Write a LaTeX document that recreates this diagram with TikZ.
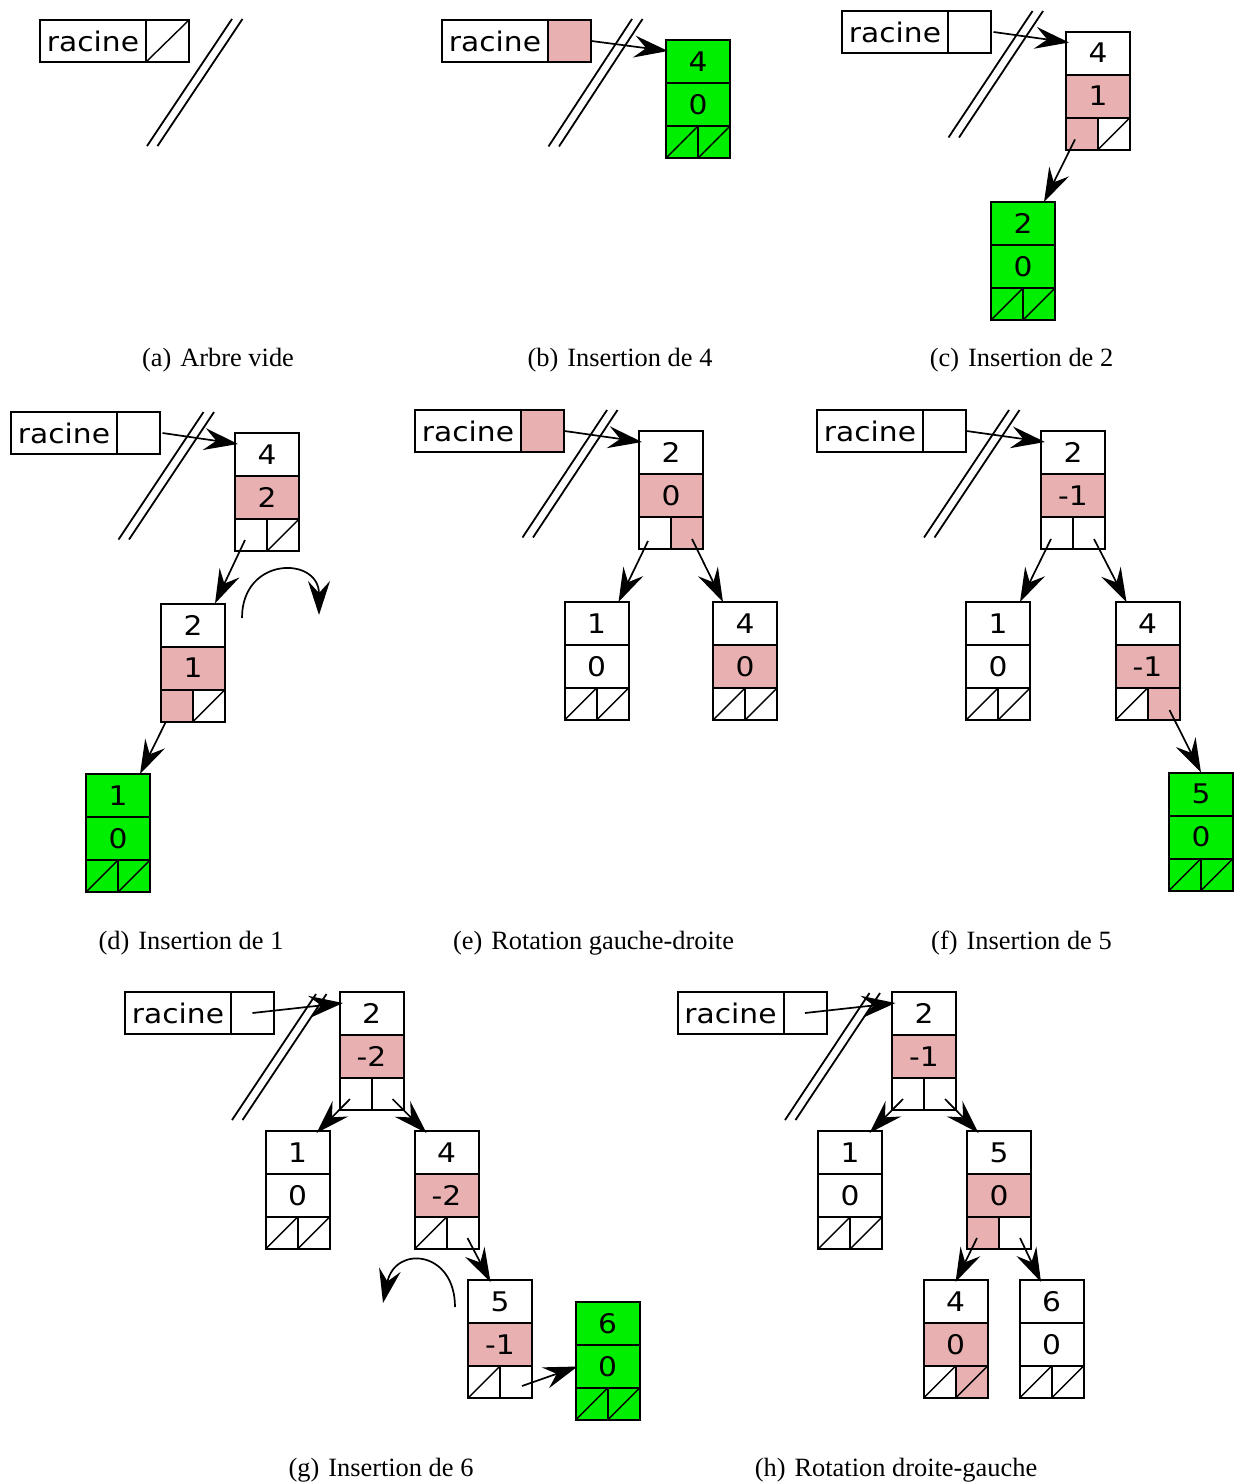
\documentclass[tikz,border=0pt]{standalone}
\usepackage{fontspec}
\newfontfamily\vera[FakeStretch=1.1]{DejaVu Sans}
\newfontfamily\capfont{Liberation Serif}
\usetikzlibrary{arrows.meta}
\definecolor{pinkc}{RGB}{232,176,176}
\definecolor{greenc}{RGB}{0,238,0}
\tikzset{
 cell/.style={draw, line width=1pt, inner sep=0pt, outer sep=0pt, anchor=north west, font={\vera\fontsize{13.5}{14}\selectfont}},
 keycell/.style={cell, minimum width=32pt, minimum height=21.5pt},
 ptrcell/.style={cell, minimum width=16pt, minimum height=16pt},
 nullline/.style={line width=0.7pt},
 slashline/.style={line width=0.9pt},
 link/.style={line width=0.85pt, -{Stealth[length=17pt,width=11pt,inset=6pt]}},
 captext/.style={font={\capfont\fontsize{13.2}{15}\selectfont}, anchor=base, inner sep=0pt},
}
\newcommand\tnode[9]{%
 \node[keycell, fill=#6] (#1) at (#2,#3) {#4};
 \node[keycell, fill=#7] (#1b) at (#1.south west) {#5};
 \node[ptrcell, fill=#8] (#1l) at (#1b.south west) {};
 \node[ptrcell, fill=#9] (#1r) at (#1l.north east) {};
}
\newcommand\nullp[1]{\draw[nullline] (#1.south west) -- (#1.north east);}
\newcommand\racine[4]{%
 \node[cell, minimum width=53pt, minimum height=21pt] (#1) at (#2,#3) {racine};
 \node[cell, minimum width=21.5pt, minimum height=21pt, fill=#4] (#1p) at (#1.north east) {};
}
\newcommand\slashes[4]{%
 \draw[slashline] (#1,#2) -- (#3,#4);
 \draw[slashline] (#1+10.5,#2) -- (#3+10.5,#4);
}
\begin{document}
\begin{tikzpicture}[x=0.5pt, y=-0.5pt]
\useasboundingbox (0,0) rectangle (1233,1483);

% (a)
\racine{ra}{40}{20}{white}
\nullp{rap}
\slashes{147}{146}{232}{19}
\node[captext] (capa) at (218,366) {(a)\hspace{4.5pt}Arbre vide};

% (b)
\racine{rb}{442}{20}{pinkc}
\slashes{548.5}{146.5}{632}{19}
\tnode{bq}{666}{40}{4}{0}{greenc}{greenc}{greenc}{greenc}
\nullp{bql}\nullp{bqr}
\draw[link] ([xshift=11]rbp.center) -- ([shift={(2,11)}]bq.north west);
\node[captext] (capb) at (620,366) {(b)\hspace{4.5pt}Insertion de 4};

% (c)
\racine{rc}{842}{11}{white}
\slashes{948.5}{137.5}{1032.5}{11}
\tnode{cq}{1066}{31.5}{4}{1}{white}{pinkc}{pinkc}{white}
\nullp{cqr}
\tnode{cb}{991}{202}{2}{0}{greenc}{greenc}{greenc}{greenc}
\nullp{cbl}\nullp{cbr}
\draw[link] ([xshift=12]rcp.center) -- ([shift={(3,11)}]cq.north west);
\draw[link] ([shift={(-7,6)}]cql.center) -- ([shift={(-11,0)}]cb.north east);
\node[captext] (capc) at (1021.5,366) {(c)\hspace{4.5pt}Insertion de 2};

% (d)
\racine{rd}{11}{412}{white}
\slashes{118.5}{539.5}{203.5}{412}
\tnode{dq}{235}{433}{4}{2}{white}{pinkc}{white}{white}
\nullp{dqr}
\tnode{db}{161}{603.5}{2}{1}{white}{pinkc}{pinkc}{white}
\nullp{dbr}
\tnode{da}{86}{774}{1}{0}{greenc}{greenc}{greenc}{greenc}
\nullp{dal}\nullp{dar}
\draw[link] ([xshift=12]rdp.center) -- ([shift={(3,11)}]dq.north west);
\draw[link] ([shift={(-6,5)}]dql.center) -- ([shift={(-10,0)}]db.north east);
\draw[link] ([shift={(-11,16)}]dbl.center) -- ([shift={(-10,0)}]da.north east);
\coordinate (rotd1) at (242,618);
\coordinate (rotd2) at (319,615);
\draw[link] (rotd1) .. controls (242,556) and (319,556) .. (rotd2);
\node[captext] (capd) at (191,949) {(d)\hspace{4.5pt}Insertion de 1};

% (e)
\racine{re}{415}{410}{pinkc}
\slashes{522.5}{537.5}{607}{410}
\tnode{eb}{639}{431}{2}{0}{white}{pinkc}{white}{pinkc}
\tnode{ea}{564.5}{602}{1}{0}{white}{white}{white}{white}
\nullp{eal}\nullp{ear}
\tnode{ed}{713}{602}{4}{0}{white}{pinkc}{white}{white}
\nullp{edl}\nullp{edr}
\draw[link] ([xshift=11]rep.center) -- ([shift={(3,11)}]eb.north west);
\draw[link] ([shift={(-7,8)}]ebl.center) -- ([shift={(-10,0)}]ea.north east);
\draw[link] ([shift={(5,6)}]ebr.center) -- ([shift={(10,0)}]ed.north west);
\node[captext] (cape) at (593.5,949) {(e)\hspace{4.5pt}Rotation gauche-droite};

% (f)
\racine{rf}{817}{410}{white}
\slashes{924}{537.5}{1009}{410}
\tnode{fb}{1041}{431}{2}{-1}{white}{pinkc}{white}{white}
\tnode{fa}{966}{602}{1}{0}{white}{white}{white}{white}
\nullp{fal}\nullp{far}
\tnode{fd}{1115.5}{602}{4}{-1}{white}{pinkc}{white}{pinkc}
\nullp{fdl}
\tnode{fe}{1169}{772.5}{5}{0}{greenc}{greenc}{greenc}{greenc}
\nullp{fel}\nullp{fer}
\draw[link] ([xshift=11]rfp.center) -- ([shift={(4,11)}]fb.north west);
\draw[link] ([shift={(-6,6)}]fbl.center) -- ([shift={(-10,0)}]fa.north east);
\draw[link] ([shift={(5,6)}]fbr.center) -- ([shift={(11,0)}]fd.north west);
\draw[link] ([shift={(6,6)}]fdr.center) -- ([shift={(32,0)}]fe.north west);
\node[captext] (capf) at (1021.5,949) {(f)\hspace{4.5pt}Insertion de 5};

% (g)
\racine{rg}{125}{992}{white}
\slashes{232}{1120}{316}{994}
\tnode{gb}{339.5}{992}{2}{-2}{white}{pinkc}{white}{white}
\tnode{ga}{265.5}{1131}{1}{0}{white}{white}{white}{white}
\nullp{gal}\nullp{gar}
\tnode{gd}{414.5}{1131}{4}{-2}{white}{pinkc}{white}{white}
\nullp{gdl}
\tnode{ge}{468}{1280}{5}{-1}{white}{pinkc}{white}{white}
\nullp{gel}
\tnode{gf}{575.5}{1302}{6}{0}{greenc}{greenc}{greenc}{greenc}
\nullp{gfl}\nullp{gfr}
\draw[link] (rgp.center) -- ([shift={(3.5,11)}]gb.north west);
\draw[link] ([shift={(-5.5,5)}]gbl.center) -- ([shift={(-13,2)}]ga.north east);
\draw[link] ([shift={(5,5)}]gbr.center) -- ([shift={(12,2)}]gd.north west);
\draw[link] ([shift={(5,5)}]gdr.center) -- ([shift={(22.5,2)}]ge.north west);
\draw[link] ([shift={(6,4)}]ger.center) -- ([shift={(2,0)}]gfb.west);
\coordinate (rotg1) at (455,1307);
\coordinate (rotg2) at (383,1303);
\draw[link] (rotg1) .. controls (455,1250) and (395,1245) .. (rotg2);
\node[captext] (capg) at (381,1476) {(g)\hspace{4.5pt}Insertion de 6};

% (h)
\racine{rh}{677.5}{992}{white}
\slashes{785}{1120}{869.5}{993}
\tnode{hb}{892}{992}{2}{-1}{white}{pinkc}{white}{white}
\tnode{ha}{818}{1131}{1}{0}{white}{white}{white}{white}
\nullp{hal}\nullp{har}
\tnode{he}{967}{1131}{5}{0}{white}{pinkc}{pinkc}{white}
\tnode{hd}{923.5}{1280}{4}{0}{white}{pinkc}{white}{pinkc}
\nullp{hdl}\nullp{hdr}
\tnode{hf}{1019.5}{1280}{6}{0}{white}{white}{white}{white}
\nullp{hfl}\nullp{hfr}
\draw[link] (rhp.center) -- ([shift={(3.5,11)}]hb.north west);
\draw[link] ([shift={(-5,5)}]hbl.center) -- ([shift={(-12.5,2)}]ha.north east);
\draw[link] ([shift={(5,5)}]hbr.center) -- ([shift={(11.5,2)}]he.north west);
\draw[link] ([shift={(-6,5)}]hel.center) -- ([shift={(32,2)}]hd.north west);
\draw[link] ([shift={(5,5)}]her.center) -- ([shift={(21.5,2)}]hf.north west);
\node[captext] (caph) at (896,1476) {(h)\hspace{4.5pt}Rotation droite-gauche};
\end{tikzpicture}
\end{document}
